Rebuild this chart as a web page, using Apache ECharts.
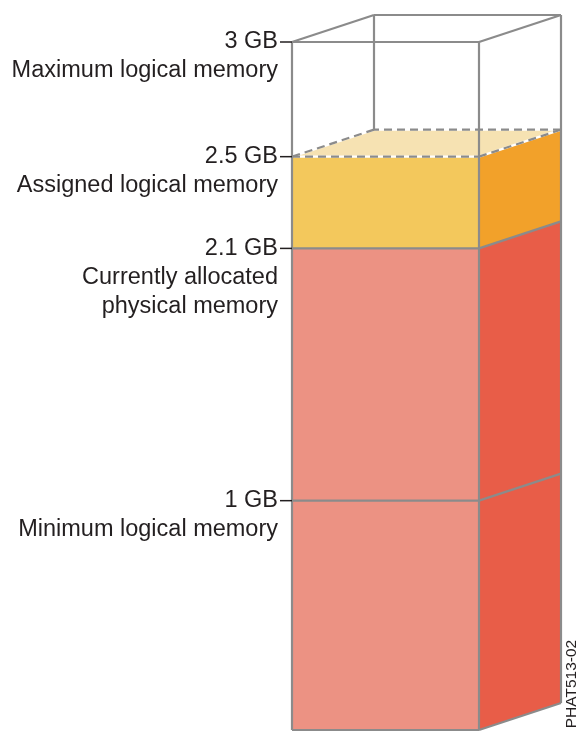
<!DOCTYPE html>
<html>
<head>
<meta charset="utf-8">
<script src="https://cdn.jsdelivr.net/npm/echarts@6/dist/echarts.min.js"></script>
<style>
html, body { margin: 0; padding: 0; background: #fff; }
#chart { width: 579px; height: 732px; }
</style>
</head>
<body>
<div id="chart"></div>
<script>
// memory levels (GB) and their labels
const levelValues = [3, 2.5, 2.1, 1]
const levelTicks = ['3 GB', '2.5 GB', '2.1 GB', '1 GB']
const levelNames = [
	['Maximum logical memory'],
	['Assigned logical memory'],
	['Currently allocated', 'physical memory'],
	['Minimum logical memory']
]
// filled parts of the column
const stackFrom = [0, 2.1]
const stackTo = [2.1, 2.5]
const maxMemory = 3
const assignedMemory = 2.5
const figureCode = 'PHAT513-02'

const DEPTH_X = 82
const DEPTH_Y = -27
const frontColors = ['#EC9283', '#F3C85C']
const sideColors = ['#E85D48', '#F2A12A']
const TOP_COLOR = '#F6E2B2'
const EDGE = '#8B8B8B'
const TEXT = '#231F20'
const FONT = '23.5px "Liberation Sans", Arial, sans-serif'

const back = (p) => [p[0] + DEPTH_X, p[1] + DEPTH_Y]
const seg = (p, q, style) => ({
	type: 'line',
	shape: { x1: p[0], y1: p[1], x2: q[0], y2: q[1] },
	style: Object.assign({ stroke: EDGE, lineWidth: 2.2 }, style)
})

const chart = echarts.init(document.getElementById('chart'))

const option = {
	animation: false,
	grid: { left: 292, right: 100, top: 42, bottom: 2 },
	xAxis: { type: 'value', min: 0, max: 1, show: false },
	yAxis: { type: 'value', min: 0, max: maxMemory, show: false },
	graphic: [
		{
			type: 'text',
			x: 572,
			y: 684,
			rotation: Math.PI / 2,
			style: {
				text: figureCode,
				font: '15.5px "Liberation Sans", Arial, sans-serif',
				fill: TEXT,
				align: 'center',
				verticalAlign: 'middle'
			}
		}
	],
	series: [
		{
			// front + side faces of each filled block
			type: 'custom',
			z: 1,
			data: stackFrom.map((f, i) => [f, stackTo[i], i]),
			renderItem: (params, api) => {
				const i = api.value(2)
				const b0 = api.coord([0, api.value(0)])
				const b1 = api.coord([1, api.value(0)])
				const t0 = api.coord([0, api.value(1)])
				const t1 = api.coord([1, api.value(1)])
				return {
					type: 'group',
					children: [
						{
							type: 'polygon',
							shape: { points: [b0, b1, t1, t0] },
							style: { fill: frontColors[i] }
						},
						{
							type: 'polygon',
							shape: { points: [b1, back(b1), back(t1), t1] },
							style: { fill: sideColors[i] }
						}
					]
				}
			}
		},
		{
			// top surface of assigned memory, dashed
			type: 'custom',
			z: 2,
			data: [[assignedMemory]],
			renderItem: (params, api) => {
				const a0 = api.coord([0, api.value(0)])
				const a1 = api.coord([1, api.value(0)])
				const edges = [[a0, a1], [a1, back(a1)], [back(a1), back(a0)], [back(a0), a0]]
				return {
					type: 'group',
					children: [
						{
							type: 'polygon',
							shape: { points: [a0, a1, back(a1), back(a0)] },
							style: { fill: TOP_COLOR }
						},
						...edges.map(([p, q]) => seg(p, q, { stroke: '#fff' })),
						...edges.map(([p, q]) => seg(p, q, { lineDash: [8, 5] }))
					]
				}
			}
		},
		{
			// wireframe of the full column
			type: 'custom',
			z: 3,
			data: [[maxMemory]],
			renderItem: (params, api) => {
				const b0 = api.coord([0, 0])
				const b1 = api.coord([1, 0])
				const t0 = api.coord([0, api.value(0)])
				const t1 = api.coord([1, api.value(0)])
				const a0 = api.coord([0, assignedMemory])
				const lines = [
					[b0, t0], [b1, t1], [back(b1), back(t1)], [b0, b1], [b1, back(b1)],
					[t0, t1], [t0, back(t0)], [back(t0), back(t1)], [t1, back(t1)],
					[back(t0), back(a0)]
				]
				return { type: 'group', children: lines.map(([p, q]) => seg(p, q)) }
			}
		},
		{
			// level ticks, labels and separators
			type: 'custom',
			z: 4,
			data: levelValues.map((v, i) => [v, i]),
			renderItem: (params, api) => {
				const v = api.value(0)
				const i = api.value(1)
				const p0 = api.coord([0, v])
				const p1 = api.coord([1, v])
				const children = [
					seg([p0[0] - 12, p0[1]], p0, { stroke: TEXT, lineWidth: 1.5 }),
					{
						type: 'text',
						style: {
							x: p0[0] - 14,
							y: p0[1],
							text: levelTicks[i],
							font: FONT,
							fill: TEXT,
							align: 'right',
							verticalAlign: 'middle'
						}
					}
				]
				levelNames[i].forEach((name, k) => {
					children.push({
						type: 'text',
						style: {
							x: p0[0] - 14,
							y: p0[1] + 29 * (k + 1),
							text: name,
							font: FONT,
							fill: TEXT,
							align: 'right',
							verticalAlign: 'middle'
						}
					})
				})
				if (v < assignedMemory) {
					children.push(seg(p0, p1), seg(p1, back(p1)))
				}
				return { type: 'group', children }
			}
		}
	]
}

chart.setOption(option)
</script>
</body>
</html>
